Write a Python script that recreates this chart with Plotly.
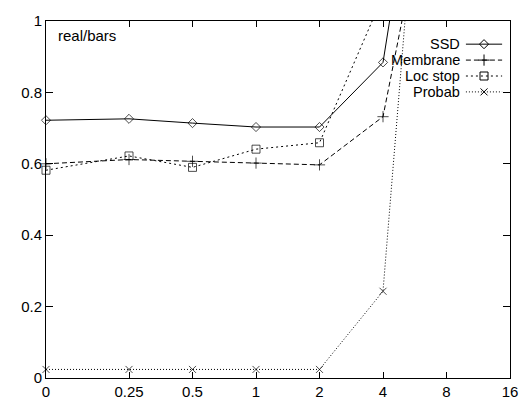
import plotly.graph_objects as go

# Category labels and their positions on the (log2-like) x axis
x_labels = ["0", "0.25", "0.5", "1", "2", "4", "8", "16"]
x_pos = [-3.307, -2, -1, 0, 1, 2, 3, 4]

# Series values (last points run off the top)
ssd = [0.722, 0.726, 0.714, 0.703, 0.703, 0.884, 2.0]
membrane = [0.600, 0.612, 0.607, 0.602, 0.597, 0.732, 1.63]
loc_stop = [0.582, 0.622, 0.590, 0.641, 0.659, 1.07, 1.6]
probab = [0.024, 0.024, 0.024, 0.024, 0.024, 0.243, 2.43]

series = [
    ("SSD", ssd, "solid", "diamond-open", 7),
    ("Membrane", membrane, "5px,3px", "cross-thin-open", 8),
    ("Loc stop", loc_stop, "2px,3px", "square-open", 8),
    ("Probab", probab, "1px,2px", "x-thin-open", 7),
]

FONT = "Liberation Sans, Arial, Helvetica, sans-serif"
fig = go.Figure()

for name, vals, dash, sym, msz in series:
    xs = x_pos[:len(vals)]
    sizes = [msz if v <= 1.0 else 0 for v in vals]
    fig.add_trace(go.Scatter(
        x=xs, y=vals, mode="lines", name=name, showlegend=False,
        line=dict(color="black", width=1, dash=dash)))
    fig.add_trace(go.Scatter(
        x=xs, y=vals, mode="markers", showlegend=False, cliponaxis=False,
        marker=dict(symbol=sym, size=sizes, color="black",
                    line=dict(color="black", width=1))))

# gnuplot-style key (text right, sample on the right), on an overlay axis
key_y = [0.9351, 0.8905, 0.8459, 0.8014]
for (name, vals, dash, sym, msz), ky in zip(series, key_y):
    fig.add_trace(go.Scatter(
        x=[0.905, 0.983], y=[ky, ky], xaxis="x2", yaxis="y2", mode="lines",
        showlegend=False, line=dict(color="black", width=1, dash=dash)))
    fig.add_trace(go.Scatter(
        x=[0.944], y=[ky], xaxis="x2", yaxis="y2", mode="markers",
        showlegend=False, cliponaxis=False,
        marker=dict(symbol=sym, size=msz, color="black",
                    line=dict(color="black", width=1))))
    fig.add_annotation(x=0.897, y=ky, xref="x2", yref="y2", text=name,
                       showarrow=False, xanchor="right", yanchor="middle",
                       font=dict(family=FONT, size=14.5, color="black"))

fig.add_annotation(x=0.0216, y=0.959, xref="x2", yref="y2", text="real/bars",
                   showarrow=False, xanchor="left", yanchor="middle",
                   font=dict(family=FONT, size=15, color="black"))

fig.update_layout(
    width=532, height=412,
    margin=dict(l=46, r=22, t=16, b=26),
    plot_bgcolor="white", paper_bgcolor="white",
    font=dict(family=FONT, size=15, color="black"),
    hovermode=False,
    xaxis=dict(range=[x_pos[0], x_pos[-1]], tickvals=x_pos, ticktext=x_labels,
               ticks="inside", ticklen=6, tickcolor="black",
               showline=True, linecolor="black", linewidth=1, mirror="ticks",
               showgrid=False, zeroline=False, fixedrange=True),
    yaxis=dict(range=[0, 1], tickvals=[0, 0.2, 0.4, 0.6, 0.8, 1],
               ticktext=["0", "0.2", "0.4", "0.6", "0.8", "1"],
               ticks="inside", ticklen=7, tickcolor="black",
               showline=True, linecolor="black", linewidth=1, mirror="ticks",
               showgrid=False, zeroline=False, fixedrange=True),
    xaxis2=dict(range=[0, 1], overlaying="x", visible=False, fixedrange=True),
    yaxis2=dict(range=[0, 1], overlaying="y", visible=False, fixedrange=True),
)

# remove the browser's default 8px body margin so the figure fills the window
fig.write_html("out.html", config={"displayModeBar": False},
               post_script="document.body.style.margin='0';")
